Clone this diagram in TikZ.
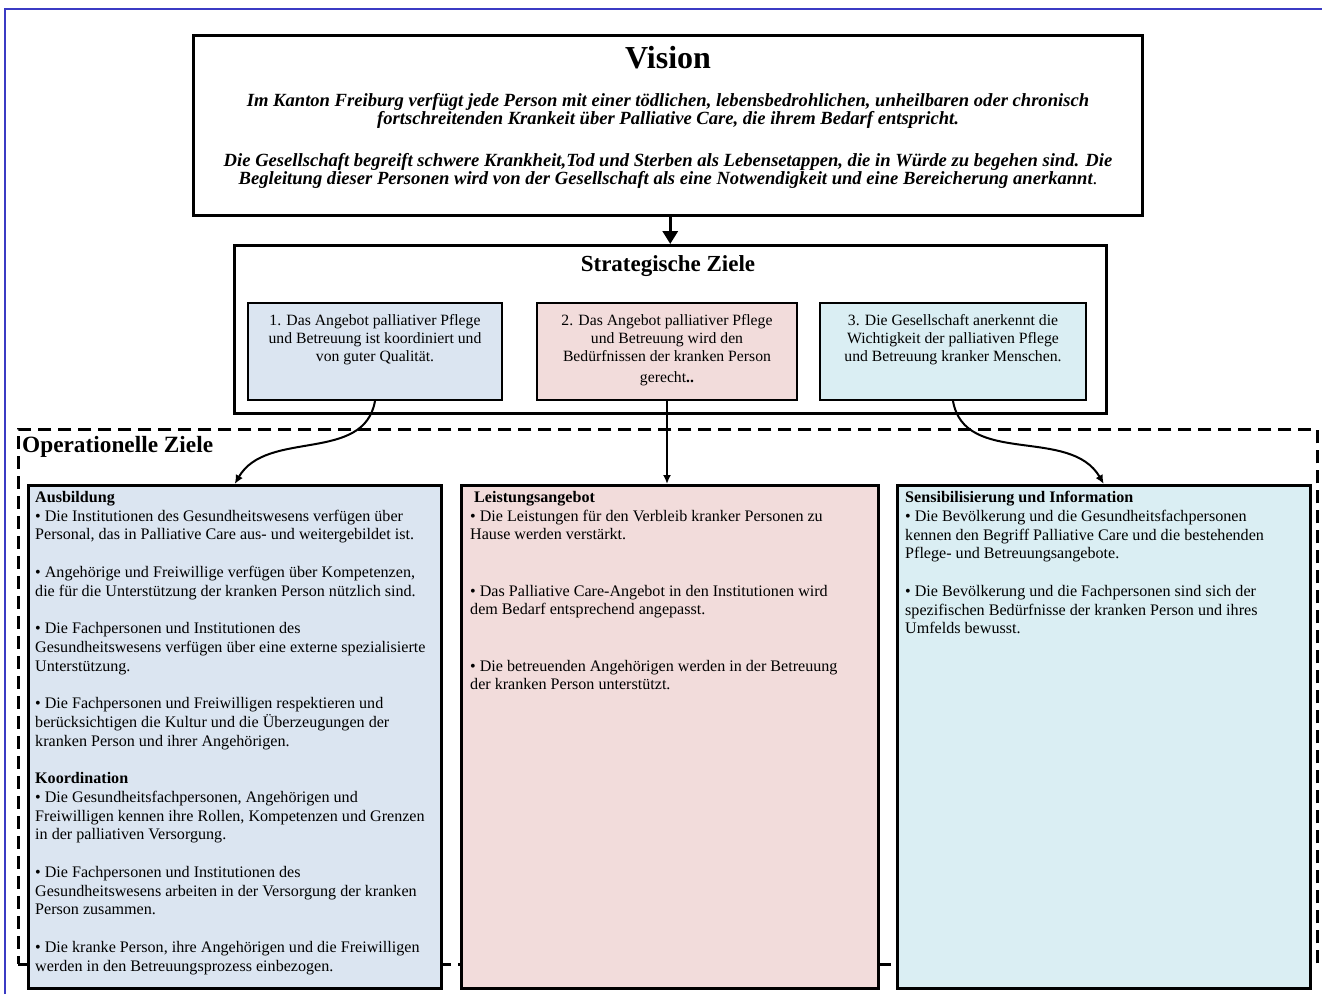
\documentclass[tikz,border=0pt]{standalone}
\usepackage{fontspec}
\setmainfont{Liberation Serif}
\usepackage{tikz}
\usetikzlibrary{arrows.meta,positioning}

\definecolor{ausbfill}{HTML}{DBE5F1}
\definecolor{leistfill}{HTML}{F2DCDB}
\definecolor{sensfill}{HTML}{DAEEF3}
\definecolor{frameblue}{HTML}{3B3BC4}

\newcommand{\visionfont}{\bfseries\itshape\fontsize{18.6}{18}\selectfont\lineskiplimit=-10pt\relax}

\tikzset{
	bigbox/.style={draw,line width=2.5pt,anchor=north west,inner sep=0pt},
	zielbox/.style={draw,line width=2pt,inner sep=0pt,minimum height=97pt},
	zieltext/.style={align=center,inner sep=0pt,font=\fontsize{15.7}{18}\selectfont},
	opbox/.style={draw,line width=2.5pt,anchor=north west,inner sep=0pt,minimum width=413pt,minimum height=503pt},
	optext/.style={anchor=north west,align=left,inner sep=0pt,font=\fontsize{16.1}{18.75}\selectfont},
	arr/.style={-{Latex[length=9pt,width=8pt]},line width=2pt},
}

\begin{document}
\begin{tikzpicture}[x=1pt,y=1pt]
\useasboundingbox (0,0) rectangle (1323,-994);

%Rahmen
\draw[frameblue,line width=1.2pt] (5,-994) -- (5,-9) -- (1322,-9);

%Vision
\node[bigbox,minimum width=949pt,minimum height=180pt] (vision) at (192,-34) {};
\node[font=\bfseries\fontsize{32}{36}\selectfont] (visiontitle) at (668,-58) {Vision};
\node[align=center,inner sep=0pt,font=\visionfont] (visiontext) at (668,-141)
	{Im Kanton Freiburg  verfügt jede Person mit einer tödlichen, lebensbedrohlichen, unheilbaren oder chronisch\\
	fortschreitenden  Krankeit  über Palliative Care, die ihrem Bedarf entspricht.\\[24pt]
	Die Gesellschaft begreift schwere Krankheit,Tod und Sterben als Lebensetappen, die in Würde zu begehen sind. Die\\
	Begleitung dieser Personen wird von der Gesellschaft als eine Notwendigkeit und eine Bereicherung anerkannt{\normalfont\upshape .}};

%Strategische Ziele
\node[bigbox,minimum width=872pt,minimum height=168pt] (strat) at (233,-244) {};
\node[font=\bfseries\fontsize{23}{24}\selectfont] (strattitle) at (668,-266) {Strategische Ziele};

\node[zielbox,fill=ausbfill,minimum width=254pt] (ziel1) at (375,-351.5) {};
\node[zielbox,fill=leistfill,minimum width=260pt] (ziel2) at (667,-351.5) {};
\node[zielbox,fill=sensfill,minimum width=266pt] (ziel3) at (953,-351.5) {};

\node[zieltext,below=12pt of ziel1.north] (ziel1text)
	{1. Das Angebot palliativer  Pflege\\ und Betreuung ist koordiniert und\\ von guter Qualität.};
\node[zieltext,below=12pt of ziel2.north] (ziel2text)
	{2. Das Angebot palliativer  Pflege\\ und Betreuung wird den\\ Bedürfnissen der kranken Person\\[3pt] gerecht\textbf{..}};
\node[zieltext,below=12pt of ziel3.north] (ziel3text)
	{3. Die Gesellschaft anerkennt die\\ Wichtigkeit der palliativen  Pflege\\ und Betreuung kranker Menschen.};

%Operationelle Ziele
\node[draw,line width=2.5pt,dash pattern=on 13pt off 7pt,anchor=north west,inner sep=0pt,
	minimum width=1299pt,minimum height=535pt] (opframe) at (17,-428) {};
\node[anchor=west,inner sep=0pt,font=\bfseries\fontsize{23.3}{24}\selectfont] (optitle) at (22,-447) {Operationelle Ziele};

\node[opbox,fill=ausbfill] (ausb) at (27,-484) {};
\node[opbox,fill=leistfill,minimum width=417pt] (leist) at (460,-484) {};
\node[opbox,fill=sensfill] (sens) at (896,-484) {};

\node[optext] (ausbtext) at (35,-491)
	{\textbf{Ausbildung}\\
	• Die Institutionen des Gesundheitswesens verfügen über\\
	Personal, das in Palliative Care aus- und weitergebildet ist.\\[18.75pt]
	•  Angehörige und Freiwillige verfügen über Kompetenzen,\\
	die für die Unterstützung der kranken Person nützlich sind.\\[18.75pt]
	•  Die Fachpersonen und Institutionen des\\
	Gesundheitswesens verfügen über eine externe spezialisierte\\
	Unterstützung.\\[18.75pt]
	•  Die Fachpersonen und Freiwilligen respektieren und\\
	berücksichtigen die Kultur und die Überzeugungen der\\
	kranken Person und ihrer Angehörigen.\\[18.75pt]
	\textbf{Koordination}\\
	•  Die Gesundheitsfachpersonen, Angehörigen und\\
	Freiwilligen kennen ihre Rollen, Kompetenzen und Grenzen\\
	in der palliativen Versorgung.\\[18.75pt]
	•  Die Fachpersonen und Institutionen des\\
	Gesundheitswesens arbeiten in der Versorgung der kranken\\
	Person zusammen.\\[18.75pt]
	•  Die kranke Person, ihre Angehörigen und die Freiwilligen\\
	werden in den Betreuungsprozess einbezogen.};

\node[optext] (leisttext) at (470,-491)
	{\textbf{\ Leistungsangebot}\\
	•  Die Leistungen für den Verbleib kranker Personen zu\\
	Hause werden verstärkt.\\[37.5pt]
	•  Das Palliative Care-Angebot in den Institutionen wird\\
	dem Bedarf entsprechend angepasst.\\[37.5pt]
	•  Die betreuenden Angehörigen werden in der Betreuung\\
	der kranken Person unterstützt.};

\node[optext] (senstext) at (905,-491)
	{\textbf{Sensibilisierung und Information}\\
	•  Die Bevölkerung und die Gesundheitsfachpersonen\\
	kennen den Begriff Palliative Care und die bestehenden\\
	Pflege- und Betreuungsangebote.\\[18.75pt]
	•  Die Bevölkerung und die Fachpersonen sind sich der\\
	spezifischen Bedürfnisse der kranken Person und ihres\\
	Umfelds bewusst.};

%Pfeile
\draw[-{Triangle[length=13pt,width=15pt]},line width=3.5pt] (vision.south -| strat.north) -- (strat.north);
\path[arr] (ziel1.south) edge[out=-100,in=60] (ausb.north);
\path[arr] (ziel2.south) edge (ziel2.south |- leist.north);
\path[arr] (ziel3.south) edge[out=-80,in=120] (sens.north);

\end{tikzpicture}
\end{document}
